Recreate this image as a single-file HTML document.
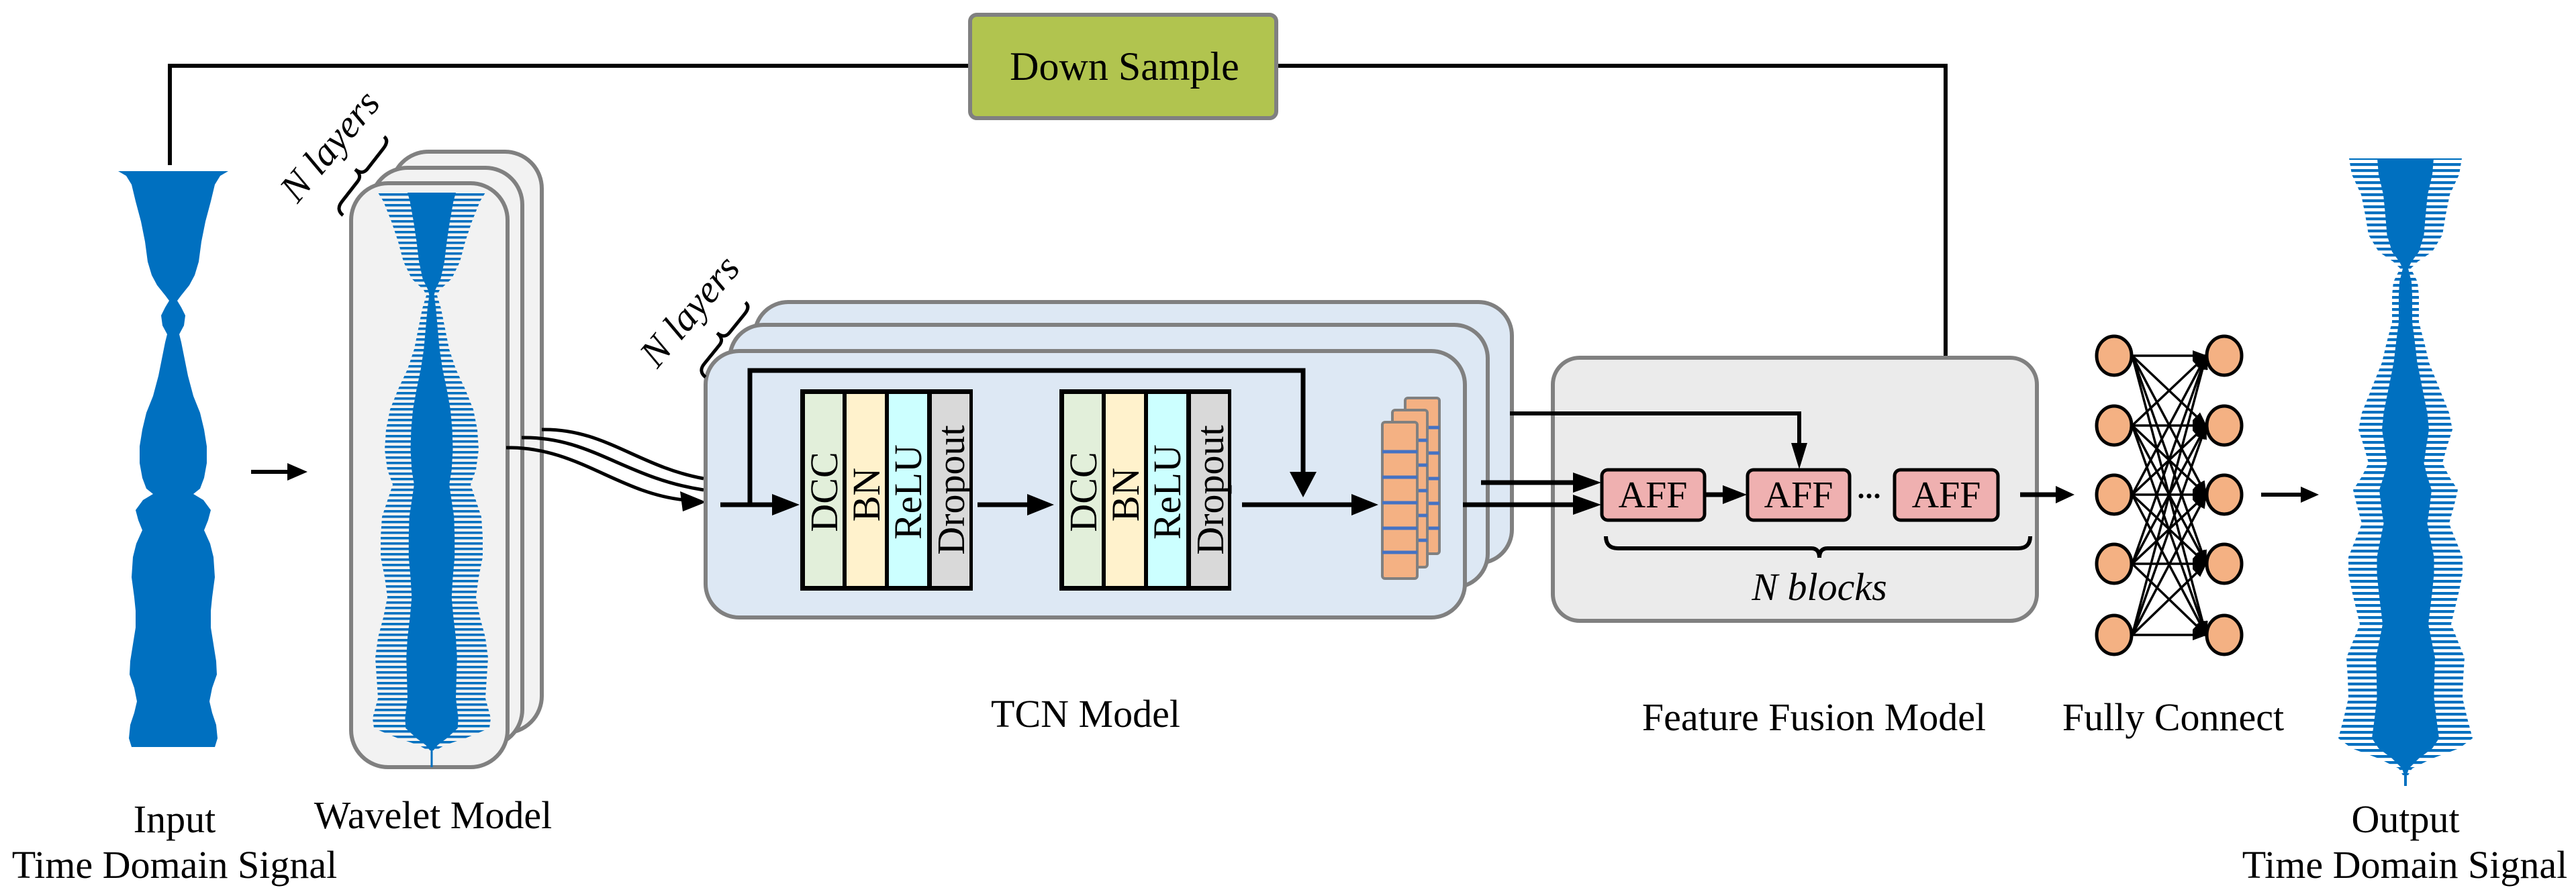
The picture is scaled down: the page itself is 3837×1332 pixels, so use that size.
<!DOCTYPE html>
<html><head><meta charset="utf-8"><style>
html,body{margin:0;padding:0;background:#fff;}
svg{display:block;}
</style></head><body>
<svg width="3837" height="1332" viewBox="0 0 3837 1332" xmlns="http://www.w3.org/2000/svg" font-family="'Liberation Serif', 'Times New Roman', serif">
<defs>
<pattern id="st" patternUnits="userSpaceOnUse" width="40" height="8"><rect x="0" y="0" width="40" height="3.6" fill="#0070c0"/></pattern>
<pattern id="st2" patternUnits="userSpaceOnUse" width="40" height="9"><rect x="0" y="0" width="40" height="4.2" fill="#0070c0"/></pattern>
<marker id="ah" markerUnits="userSpaceOnUse" markerWidth="22" markerHeight="16" refX="20" refY="8" orient="auto"><path d="M0,0 L22,8 L0,16 Z" fill="#000"/></marker>
</defs>
<rect width="3837" height="1332" fill="#fff"/>

<path d="M253,246 L253,98 L1443,98" fill="none" stroke="#000" stroke-width="6"/>
<path d="M1903,98 L2898,98 L2898,665" fill="none" stroke="#000" stroke-width="6"/>
<polygon points="2898,699 2886,660 2910,660" fill="#000"/>
<rect x="1445" y="22" width="456" height="154" rx="10" fill="#b1c44f" stroke="#808080" stroke-width="6"/>
<text x="1675" y="119" font-size="60" text-anchor="middle" font-family="'Liberation Serif', serif">Down Sample</text>

<g transform="translate(258,0)">
<polygon fill="#0070c0" points="82,255 70,262 62,275 56,300 48,330 42,360 38,390 32,410 24,425 12,440 6,448 12,458 18,470 16,485 9,498 12,510 16,530 22,560 30,590 40,615 46,640 50,665 50,690 46,712 40,728 30,736 45,745 56,760 52,775 46,790 55,810 60,830 62,860 58,890 56,910 56,935 60,960 64,985 65,1005 58,1025 54,1045 58,1062 64,1080 66,1100 62,1113 -62,1113 -66,1100 -64,1080 -58,1062 -54,1045 -58,1025 -65,1005 -64,985 -60,960 -56,935 -56,910 -58,890 -62,860 -60,830 -55,810 -46,790 -52,775 -56,760 -45,745 -30,736 -40,728 -46,712 -50,690 -50,665 -46,640 -40,615 -30,590 -22,560 -16,530 -12,510 -9,498 -16,485 -18,470 -12,458 -6,448 -12,440 -24,425 -32,410 -38,390 -42,360 -48,330 -56,300 -62,275 -70,262 -82,255"/>
</g>
<line x1="374" y1="703" x2="432" y2="703" stroke="#000" stroke-width="6"/>
<polygon points="458,703 428,690 428,716" fill="#000"/>

<rect x="583" y="226" width="224" height="866" rx="55" fill="#f2f2f2" stroke="#808080" stroke-width="6"/>
<rect x="552" y="250" width="226" height="862" rx="55" fill="#f2f2f2" stroke="#808080" stroke-width="6"/>
<rect x="523" y="273" width="233" height="870" rx="55" fill="#f2f2f2" stroke="#808080" stroke-width="6"/>
<g transform="translate(643,0)">
<polygon fill="url(#st)" points="80,287 72,300 60,330 50,360 42,390 30,415 12,432 8,440 14,460 20,490 26,520 36,550 50,580 62,610 68,640 70,670 66,700 58,722 64,740 74,770 76,800 76,830 70,860 66,890 72,920 80,950 84,980 82,1010 80,1040 88,1070 86,1085 50,1100 20,1110 6,1118 -6,1118 -20,1110 -50,1100 -86,1085 -88,1070 -80,1040 -82,1010 -84,980 -80,950 -72,920 -66,890 -70,860 -76,830 -76,800 -74,770 -64,740 -58,722 -66,700 -70,670 -68,640 -62,610 -50,580 -36,550 -26,520 -20,490 -14,460 -8,440 -12,432 -30,415 -42,390 -50,360 -60,330 -72,300 -80,287"/>
<polygon fill="#0070c0" transform="scale(0.45,1)" points="80,287 72,300 60,330 50,360 42,390 30,415 12,432 8,440 14,460 20,490 26,520 36,550 50,580 62,610 68,640 70,670 66,700 58,722 64,740 74,770 76,800 76,830 70,860 66,890 72,920 80,950 84,980 82,1010 80,1040 88,1070 86,1085 50,1100 20,1110 6,1118 -6,1118 -20,1110 -50,1100 -86,1085 -88,1070 -80,1040 -82,1010 -84,980 -80,950 -72,920 -66,890 -70,860 -76,830 -76,800 -74,770 -64,740 -58,722 -66,700 -70,670 -68,640 -62,610 -50,580 -36,550 -26,520 -20,490 -14,460 -8,440 -12,432 -30,415 -42,390 -50,360 -60,330 -72,300 -80,287"/>
<line x1="0" y1="1110" x2="0" y2="1143" stroke="#0070c0" stroke-width="3"/>
</g>
<g transform="translate(540,261) rotate(-52)">
<path d="M-65,14 Q-65,0 -50,0 L-12,0 Q0,0 0,-14 Q0,0 12,0 L50,0 Q65,0 65,-10" fill="none" stroke="#000" stroke-width="5"/>
</g>
<text transform="translate(492,218) rotate(-50)" font-size="58" font-style="italic" text-anchor="middle" y="18" font-family="'Liberation Serif', serif">N layers</text>

<path d="M807,640 C900,638 950,695 1048,713" fill="none" stroke="#000" stroke-width="5"/>
<path d="M777,652 C880,650 930,712 1048,730" fill="none" stroke="#000" stroke-width="5"/>
<path d="M754,667 C860,665 920,735 1020,745" fill="none" stroke="#000" stroke-width="5"/>
<polygon points="1052,748 1013,732 1017,762" fill="#000"/>

<rect x="1124" y="450" width="1128" height="389" rx="50" fill="#dde8f4" stroke="#808080" stroke-width="6"/>
<rect x="1087" y="484" width="1129" height="391" rx="50" fill="#dde8f4" stroke="#808080" stroke-width="6"/>
<rect x="1051" y="523" width="1131" height="397" rx="50" fill="#dde8f4" stroke="#808080" stroke-width="6"/>
<g transform="translate(1079,505) rotate(-51)">
<path d="M-62,14 Q-62,0 -48,0 L-12,0 Q0,0 0,-14 Q0,0 12,0 L48,0 Q62,0 62,-10" fill="none" stroke="#000" stroke-width="5"/>
</g>
<text transform="translate(1028,464) rotate(-50)" font-size="58" font-style="italic" text-anchor="middle" y="18" font-family="'Liberation Serif', serif">N layers</text>

<path d="M1117,752 L1117,552 L1941,552 L1941,708" fill="none" stroke="#000" stroke-width="7"/>
<polygon points="1941,741 1921,703 1961,703" fill="#000"/>
<line x1="1073" y1="752" x2="1155" y2="752" stroke="#000" stroke-width="7"/>
<polygon points="1191,752 1150,736 1150,768" fill="#000"/>
<line x1="1456" y1="752" x2="1535" y2="752" stroke="#000" stroke-width="7"/>
<polygon points="1570,752 1530,736 1530,768" fill="#000"/>
<line x1="1850" y1="752" x2="2018" y2="752" stroke="#000" stroke-width="7"/>
<polygon points="2053,752 2013,736 2013,768" fill="#000"/>

<g font-family="'Liberation Serif', serif">
<rect x="1192" y="580" width="257" height="300" fill="#000"/>
<rect x="1199" y="587" width="56" height="286" fill="#e2efda"/>
<rect x="1261" y="587" width="57" height="286" fill="#fff2cc"/>
<rect x="1324" y="587" width="57" height="286" fill="#ccffff"/>
<rect x="1388" y="587" width="56" height="286" fill="#d9d9d9"/>
<text transform="translate(1227,733) rotate(-90)" font-size="58" text-anchor="middle" y="20">DCC</text>
<text transform="translate(1290,737) rotate(-90)" font-size="58" text-anchor="middle" y="20">BN</text>
<text transform="translate(1352,733) rotate(-90)" font-size="58" text-anchor="middle" y="20">ReLU</text>
<text transform="translate(1416,730) rotate(-90)" font-size="58" text-anchor="middle" y="20">Dropout</text>
</g>
<g transform="translate(386,0)" font-family="'Liberation Serif', serif">
<rect x="1192" y="580" width="256" height="300" fill="#000"/>
<rect x="1199" y="587" width="56" height="286" fill="#e2efda"/>
<rect x="1261" y="587" width="57" height="286" fill="#fff2cc"/>
<rect x="1324" y="587" width="57" height="286" fill="#ccffff"/>
<rect x="1388" y="587" width="55" height="286" fill="#d9d9d9"/>
<text transform="translate(1227,733) rotate(-90)" font-size="58" text-anchor="middle" y="20">DCC</text>
<text transform="translate(1290,737) rotate(-90)" font-size="58" text-anchor="middle" y="20">BN</text>
<text transform="translate(1352,733) rotate(-90)" font-size="58" text-anchor="middle" y="20">ReLU</text>
<text transform="translate(1416,730) rotate(-90)" font-size="58" text-anchor="middle" y="20">Dropout</text>
</g>

<rect x="2093" y="593" width="51" height="232" rx="4" fill="#f4b183" stroke="#808080" stroke-width="4"/>
<g stroke="#4472c4" stroke-width="5"><line x1="2111" y1="637" x2="2144" y2="637"/><line x1="2111" y1="675" x2="2144" y2="675"/><line x1="2111" y1="713" x2="2144" y2="713"/><line x1="2111" y1="750" x2="2144" y2="750"/><line x1="2111" y1="787" x2="2144" y2="787"/></g>
<rect x="2074" y="611" width="52" height="234" rx="4" fill="#f4b183" stroke="#808080" stroke-width="4"/>
<g stroke="#4472c4" stroke-width="5"><line x1="2111" y1="656" x2="2126" y2="656"/><line x1="2111" y1="693" x2="2126" y2="693"/><line x1="2111" y1="731" x2="2126" y2="731"/><line x1="2111" y1="768" x2="2126" y2="768"/><line x1="2111" y1="805" x2="2126" y2="805"/></g>
<rect x="2059" y="629" width="52" height="233" rx="4" fill="#f4b183" stroke="#808080" stroke-width="4"/>
<g stroke="#4472c4" stroke-width="5"><line x1="2059" y1="673" x2="2111" y2="673"/><line x1="2059" y1="711" x2="2111" y2="711"/><line x1="2059" y1="749" x2="2111" y2="749"/><line x1="2059" y1="787" x2="2111" y2="787"/><line x1="2059" y1="823" x2="2111" y2="823"/></g>

<rect x="2313" y="533" width="721" height="392" rx="40" fill="#ebebeb" stroke="#808080" stroke-width="6"/>
<path d="M2249,616 L2680,616 L2680,665" fill="none" stroke="#000" stroke-width="6"/>
<polygon points="2680,699 2668,660 2692,660" fill="#000"/>
<line x1="2206" y1="719" x2="2345" y2="719" stroke="#000" stroke-width="7"/>
<polygon points="2385,719 2343,704 2343,734" fill="#000"/>
<line x1="2179" y1="752" x2="2345" y2="752" stroke="#000" stroke-width="7"/>
<polygon points="2385,752 2343,737 2343,767" fill="#000"/>
<line x1="2540" y1="737" x2="2570" y2="737" stroke="#000" stroke-width="7"/>
<polygon points="2602,737 2566,723 2566,751" fill="#000"/>
<rect x="2386" y="700" width="153" height="75" rx="9" fill="#efb0b0" stroke="#000" stroke-width="5"/>
<rect x="2603" y="700" width="152" height="75" rx="9" fill="#efb0b0" stroke="#000" stroke-width="5"/>
<rect x="2822" y="700" width="154" height="75" rx="9" fill="#efb0b0" stroke="#000" stroke-width="5"/>
<g font-family="'Liberation Serif', serif" font-size="56" text-anchor="middle">
<text x="2462" y="756">AFF</text>
<text x="2679" y="756">AFF</text>
<text x="2899" y="756">AFF</text>
</g>
<g fill="#000"><circle cx="2772" cy="739" r="3.5"/><circle cx="2784" cy="739" r="3.5"/><circle cx="2796" cy="739" r="3.5"/></g>
<path d="M2392,799 Q2392,817 2410,817 L2698,817 Q2710,817 2710,831 Q2710,817 2722,817 L3006,817 Q3024,817 3024,799" fill="none" stroke="#000" stroke-width="6"/>
<text x="2710" y="894" font-size="58" font-style="italic" text-anchor="middle" font-family="'Liberation Serif', serif">N blocks</text>

<line x1="3009" y1="737" x2="3070" y2="737" stroke="#000" stroke-width="7"/>
<polygon points="3090,737 3062,724 3062,750" fill="#000"/>

<g stroke="#000" stroke-width="3.5" marker-end="url(#ah)">
<line x1="3176" y1="530" x2="3286" y2="530"/><line x1="3176" y1="530" x2="3286" y2="634"/><line x1="3176" y1="530" x2="3286" y2="737"/><line x1="3176" y1="530" x2="3286" y2="840"/><line x1="3176" y1="530" x2="3286" y2="946"/>
<line x1="3176" y1="634" x2="3286" y2="530"/><line x1="3176" y1="634" x2="3286" y2="634"/><line x1="3176" y1="634" x2="3286" y2="737"/><line x1="3176" y1="634" x2="3286" y2="840"/><line x1="3176" y1="634" x2="3286" y2="946"/>
<line x1="3176" y1="737" x2="3286" y2="530"/><line x1="3176" y1="737" x2="3286" y2="634"/><line x1="3176" y1="737" x2="3286" y2="737"/><line x1="3176" y1="737" x2="3286" y2="840"/><line x1="3176" y1="737" x2="3286" y2="946"/>
<line x1="3176" y1="840" x2="3286" y2="530"/><line x1="3176" y1="840" x2="3286" y2="634"/><line x1="3176" y1="840" x2="3286" y2="737"/><line x1="3176" y1="840" x2="3286" y2="840"/><line x1="3176" y1="840" x2="3286" y2="946"/>
<line x1="3176" y1="946" x2="3286" y2="530"/><line x1="3176" y1="946" x2="3286" y2="634"/><line x1="3176" y1="946" x2="3286" y2="737"/><line x1="3176" y1="946" x2="3286" y2="840"/><line x1="3176" y1="946" x2="3286" y2="946"/>
</g>
<g fill="#f4b183" stroke="#000" stroke-width="5">
<ellipse cx="3149" cy="530" rx="26" ry="29"/><ellipse cx="3149" cy="634" rx="26" ry="29"/><ellipse cx="3149" cy="737" rx="26" ry="29"/><ellipse cx="3149" cy="840" rx="26" ry="29"/><ellipse cx="3149" cy="946" rx="26" ry="29"/>
<ellipse cx="3313" cy="530" rx="26" ry="29"/><ellipse cx="3313" cy="634" rx="26" ry="29"/><ellipse cx="3313" cy="737" rx="26" ry="29"/><ellipse cx="3313" cy="840" rx="26" ry="29"/><ellipse cx="3313" cy="946" rx="26" ry="29"/>
</g>
<line x1="3368" y1="737" x2="3435" y2="737" stroke="#000" stroke-width="6"/>
<polygon points="3454,737 3427,725 3427,749" fill="#000"/>

<g transform="translate(3583,0)">
<polygon fill="url(#st2)" points="84,236 80,260 66,290 60,320 55,350 40,375 18,390 8,400 18,420 20,440 20,480 28,510 35,540 45,565 55,590 65,615 70,640 62,665 55,690 65,710 78,730 72,755 65,780 75,805 85,830 85,855 80,880 74,905 68,930 78,955 88,980 86,1010 85,1040 92,1070 100,1100 80,1115 40,1130 10,1145 4,1155 -4,1155 -10,1145 -40,1130 -80,1115 -100,1100 -92,1070 -85,1040 -86,1010 -88,980 -78,955 -68,930 -74,905 -80,880 -85,855 -85,830 -75,805 -65,780 -72,755 -78,730 -65,710 -55,690 -62,665 -70,640 -65,615 -55,590 -45,565 -35,540 -28,510 -20,480 -20,440 -18,420 -8,400 -18,390 -40,375 -55,350 -60,320 -66,290 -80,260 -84,236"/>
<polygon fill="#0070c0" transform="scale(0.5,1)" points="84,236 80,260 66,290 60,320 55,350 40,375 18,390 8,400 18,420 20,440 20,480 28,510 35,540 45,565 55,590 65,615 70,640 62,665 55,690 65,710 78,730 72,755 65,780 75,805 85,830 85,855 80,880 74,905 68,930 78,955 88,980 86,1010 85,1040 92,1070 100,1100 80,1115 40,1130 10,1145 4,1155 -4,1155 -10,1145 -40,1130 -80,1115 -100,1100 -92,1070 -85,1040 -86,1010 -88,980 -78,955 -68,930 -74,905 -80,880 -85,855 -85,830 -75,805 -65,780 -72,755 -78,730 -65,710 -55,690 -62,665 -70,640 -65,615 -55,590 -45,565 -35,540 -28,510 -20,480 -20,440 -18,420 -8,400 -18,390 -40,375 -55,350 -60,320 -66,290 -80,260 -84,236"/>
<line x1="0" y1="1150" x2="0" y2="1171" stroke="#0070c0" stroke-width="4"/>
</g>

<g font-family="'Liberation Serif', serif" font-size="58" text-anchor="middle">
<text x="260" y="1240">Input</text>
<text x="260" y="1308">Time Domain Signal</text>
<text x="645" y="1234">Wavelet Model</text>
<text x="1617" y="1083">TCN Model</text>
<text x="2702" y="1088">Feature Fusion Model</text>
<text x="3237" y="1088">Fully Connect</text>
<text x="3583" y="1240">Output</text>
<text x="3582" y="1308">Time Domain Signal</text>
</g>
</svg>
</body></html>
